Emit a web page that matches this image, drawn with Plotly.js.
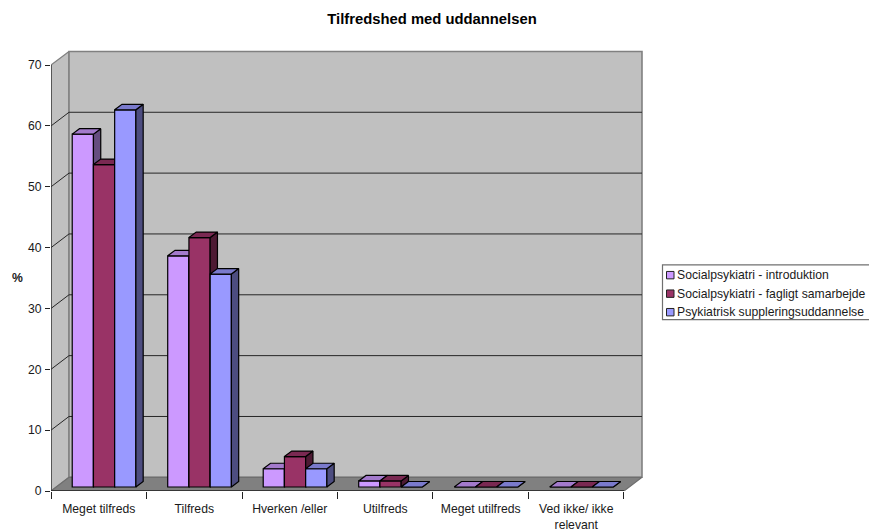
<!DOCTYPE html>
<html><head><meta charset="utf-8">
<script src="https://cdn.plot.ly/plotly-3.0.1.min.js"></script>
<style>html,body{margin:0;padding:0;background:#fff;overflow:hidden}</style>
</head><body><div id="chart" style="width:869px;height:531px"></div>
<script>
const chartTitle = 'Tilfredshed med uddannelsen';
const categories = ['Meget tilfreds','Tilfreds','Hverken /eller','Utilfreds','Meget utilfreds','Ved ikke/ ikke<br>relevant'];
const seriesNames = ['Socialpsykiatri - introduktion','Socialpsykiatri - fagligt samarbejde','Psykiatrisk suppleringsuddannelse'];
const introduktion = [58,38,3,1,0,0];
const samarbejde = [53,41,5,1,0,0];
const supplering = [62,35,3,0,0,0];
const yTicks = [0,10,20,30,40,50,60,70];
const frontColors = ['#CC99FF','#993366','#9999FF'];
const topColors = ['#A37ACC','#7A2952','#7A7ACC'];
const sideColors = ['#664D80','#4D1A33','#4D4D80'];

const seriesValues = [introduktion, samarbejde, supplering];
const W=869,H=531,L=51,R=645,T=49,B=490.7;
const xRange=[-0.5,5.72], yRange=[0,72.65];
const wallDX=18/95.5, wallDY=2.25;          // depth of the 3-D box in axis units
const barW=1/4.5, barDX=7.3/95.5, barDY=0.9; // bar width and depth
const shiftX=5.3/95.5, shiftY=4/6.08;        // bars sit part-way into the floor
const left=-0.5,right=5.5;
const px=v=>(v-L)/(R-L), py=v=>(B-v)/(B-T);
const idx=categories.map((_,i)=>i);

function poly(list){const x=[],y=[];list.forEach(p=>{p.forEach(q=>{x.push(q[0]);y.push(q[1])});x.push(p[0][0]);y.push(p[0][1]);x.push(null);y.push(null)});return{x,y}}
function fillTrace(list,fill,line,w,xa,ya){const p=poly(list);return{type:'scatter',mode:'lines',x:p.x,y:p.y,fill:'toself',fillcolor:fill,line:{color:line,width:w},xaxis:xa||'x',yaxis:ya||'y',hoverinfo:'skip',showlegend:false,cliponaxis:false}}

const traces=[];
traces.push(fillTrace([[[left,0],[left,70],[left+wallDX,70+wallDY],[left+wallDX,wallDY]]],'#C0C0C0','#808080',1.2));
traces.push(fillTrace([[[left+wallDX,wallDY],[left+wallDX,70+wallDY],[right+wallDX,70+wallDY],[right+wallDX,wallDY]]],'#C0C0C0','#808080',1.6));
traces.push(fillTrace([[[left,0],[left+wallDX,wallDY],[right+wallDX,wallDY],[right,0]]],'#808080','#6E6E6E',1.2));
const gx=[],gy=[];
yTicks.filter(v=>v>0&&v<70).forEach(v=>{gx.push(left,left+wallDX,right+wallDX,null);gy.push(v,v+wallDY,v+wallDY,null)});
traces.push({type:'scatter',mode:'lines',x:gx,y:gy,line:{color:'#262626',width:1},hoverinfo:'skip',showlegend:false});
traces.push({type:'scatter',mode:'lines',x:[left,left],y:[0,70],line:{color:'#333',width:1.3},hoverinfo:'skip',showlegend:false,cliponaxis:false});
traces.push({type:'scatter',mode:'lines',x:[left,right],y:[0,0],xaxis:'x2',yaxis:'y',line:{color:'#222',width:1.3},hoverinfo:'skip',showlegend:false,cliponaxis:false});

seriesValues.forEach((vals,s)=>{
  const n=s+3, xa='x'+n, ya='y'+n;
  const c=i=>i+shiftX+(s-1)*barW, a=i=>c(i)-barW/2, b=i=>c(i)+barW/2;
  traces.push({type:'bar',name:seriesNames[s],x:idx.map(c),y:vals,base:idx.map(()=>shiftY),width:barW,xaxis:xa,yaxis:ya,
    marker:{color:frontColors[s],line:{color:'#000',width:1.2}},showlegend:false,hovertemplate:'%{y}%<extra>'+seriesNames[s]+'</extra>'});
  traces.push(fillTrace(idx.map(i=>[[b(i),shiftY],[b(i)+barDX,shiftY+barDY],[b(i)+barDX,shiftY+barDY+vals[i]],[b(i),shiftY+vals[i]]]),sideColors[s],'#000',1.2,xa,ya));
  traces.push(fillTrace(idx.map(i=>[[a(i),shiftY+vals[i]],[a(i)+barDX,shiftY+barDY+vals[i]],[b(i)+barDX,shiftY+barDY+vals[i]],[b(i),shiftY+vals[i]]]),topColors[s],'#000',1.2,xa,ya));
});

const hidden=(o)=>Object.assign({range:xRange,domain:[0,1],visible:false,fixedrange:true},o);
const fontBase={family:'"Liberation Sans",Arial,sans-serif',size:12.2,color:'#1a1a1a'};
const shapes=[{type:'rect',xref:'paper',yref:'paper',x0:px(662.5),x1:px(875),y0:py(264.8),y1:py(319.5),line:{color:'#707070',width:1.2},fillcolor:'#fff'}];
const rowY=[275,293.5,312];
const annotations=[{xref:'paper',yref:'paper',x:px(17),y:py(278),text:'<b>%</b>',showarrow:false,font:fontBase,xanchor:'center',yanchor:'middle'}];
seriesNames.forEach((name,s)=>{
  shapes.push({type:'rect',xref:'paper',yref:'paper',x0:px(666.5),x1:px(674),y0:py(rowY[s]-3.7),y1:py(rowY[s]+3.7),line:{color:'#222',width:1},fillcolor:frontColors[s]});
  annotations.push({xref:'paper',yref:'paper',x:px(677),y:py(rowY[s]),text:name,showarrow:false,font:fontBase,xanchor:'left',yanchor:'middle',borderpad:0,borderwidth:0});
});

const layout={width:W,height:H,paper_bgcolor:'#fff',plot_bgcolor:'rgba(0,0,0,0)',showlegend:false,barmode:'overlay',
  margin:{l:L,r:W-R,t:T,b:H-B,pad:0},font:fontBase,
  title:{text:'<b>'+chartTitle+'</b>',x:432/W,xref:'container',xanchor:'center',y:1-19/H,yref:'container',yanchor:'middle',font:Object.assign({},fontBase,{size:14.8,color:'#000'})},
  xaxis:{range:xRange,tickmode:'array',tickvals:idx,ticktext:categories,ticks:'',ticklabelstandoff:9,showgrid:false,zeroline:false,showline:false,tickangle:0,fixedrange:true,tickfont:fontBase},
  xaxis2:{range:xRange,overlaying:'x',anchor:'y',side:'bottom',tickmode:'array',tickvals:[-0.5,0.5,1.5,2.5,3.5,4.5,5.5],ticktext:['','','','','','',''],ticks:'outside',ticklen:6.5,tickwidth:1,tickcolor:'#222',showgrid:false,zeroline:false,showline:false,fixedrange:true},
  yaxis:{range:yRange,tickmode:'array',tickvals:yTicks,ticks:'outside',ticklen:5,tickwidth:1,tickcolor:'#222',showgrid:false,zeroline:false,showline:false,fixedrange:true,tickfont:fontBase,ticklabelstandoff:1},
  xaxis3:hidden({overlaying:'x',anchor:'y3'}),yaxis3:hidden({range:yRange,overlaying:'y',anchor:'x3'}),
  xaxis4:hidden({overlaying:'x',anchor:'y4'}),yaxis4:hidden({range:yRange,overlaying:'y',anchor:'x4'}),
  xaxis5:hidden({overlaying:'x',anchor:'y5'}),yaxis5:hidden({range:yRange,overlaying:'y',anchor:'x5'}),
  shapes,annotations};
Plotly.newPlot('chart',traces,layout,{displayModeBar:false,staticPlot:true});
</script></body></html>
